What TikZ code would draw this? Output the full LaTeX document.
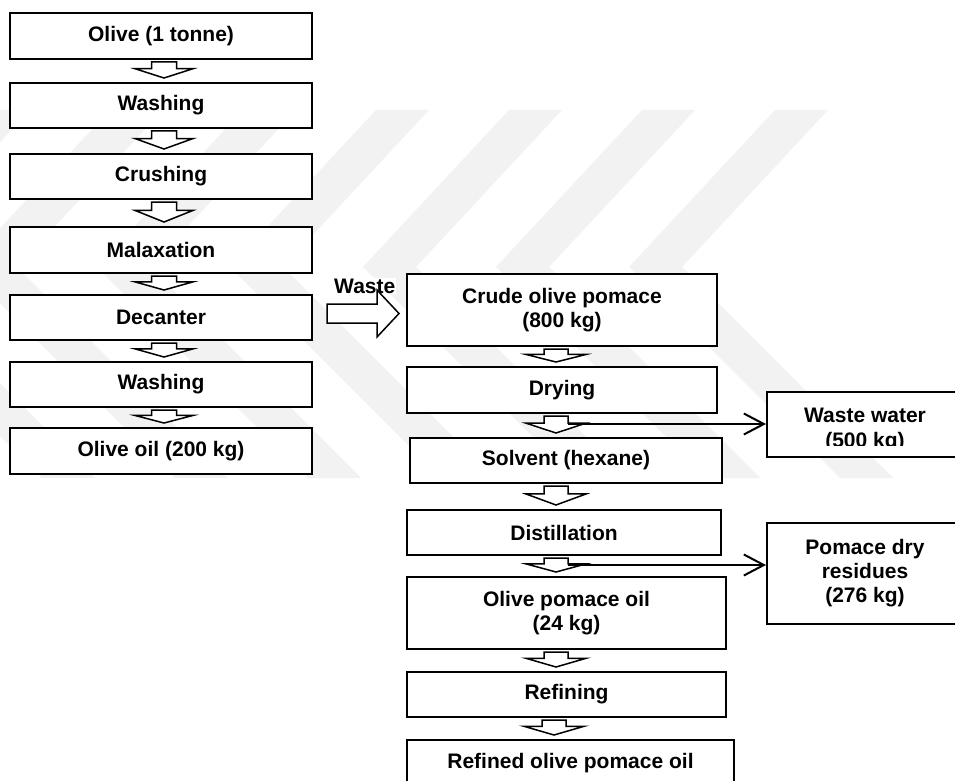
\documentclass[tikz,border=0pt]{standalone}
\usepackage{fontspec}
\setmainfont{Liberation Sans}
\usetikzlibrary{arrows.meta,calc}
% down-pointing block arrow between two named boxes: from, to, centre x, shaft half width, head half width
\newcommand\flowarrow[5]{%
  \draw[barrow] let \p1=(#1.south), \p2=(#2.north) in
    ({(#3-#4)*1pt},{\y1-2pt}) --
    ({(#3-#4)*1pt},{\y1-2pt-0.42*(\y1-\y2-6pt)}) --
    ({(#3-#5)*1pt},{\y1-2pt-0.42*(\y1-\y2-6pt)}) --
    ({#3*1pt},{\y2+4pt}) --
    ({(#3+#5)*1pt},{\y1-2pt-0.42*(\y1-\y2-6pt)}) --
    ({(#3+#4)*1pt},{\y1-2pt-0.42*(\y1-\y2-6pt)}) --
    ({(#3+#4)*1pt},{\y1-2pt}) -- cycle;}
\begin{document}
\begin{tikzpicture}[x=1pt,y=-1pt,
  box/.style={draw, line width=2pt, fill=white, align=center, inner sep=0pt,
    font=\bfseries\fontsize{21}{24}\selectfont},
  lbl/.style={font=\bfseries\fontsize{21}{24}\selectfont, inner sep=0pt},
  barrow/.style={draw, line width=1.5pt, fill=white, line join=miter},
  sideline/.style={line width=2pt, -{Straight Barb[length=20pt,width=21pt,line width=2pt]}},
  wm/.style={fill=black!5, draw=none}]
\useasboundingbox (0,0) rectangle (955,781);
\clip (0,0) rectangle (955,781);
\fill[white] (0,0) rectangle (955,781);
% faint background watermark
\foreach \T in {682,549,416,283,150,17,-116}
  \fill[wm] ({\T+93},110) -- ({\T+146},110) -- (\T,267) -- ({\T+211},478)
    -- ({\T+158},478) -- ({\T-53},267) -- cycle;

% left column
\node[box, minimum width=302pt, minimum height=46pt] (olive) at (161,36) {Olive (1 tonne)};
\node[box, minimum width=302pt, minimum height=45pt] (wash1) at (161,105.5) {Washing};
\node[box, minimum width=302pt, minimum height=45pt] (crush) at (161,176.5) {Crushing};
\node[box, minimum width=302pt, minimum height=46pt] (malax) at (161,250) {Malaxation};
\node[box, minimum width=302pt, minimum height=45pt] (decant) at (161,317.5) {Decanter};
\node[box, minimum width=302pt, minimum height=45pt] (wash2) at (161,384.5) {Washing};
\node[box, minimum width=302pt, minimum height=46pt] (oil) at (161,451) {Olive oil (200 kg)};

\flowarrow{olive}{wash1}{164}{12.5}{29}
\flowarrow{wash1}{crush}{164}{12.5}{29}
\flowarrow{crush}{malax}{164}{12.5}{29}
\flowarrow{malax}{decant}{164}{12.5}{29}
\flowarrow{decant}{wash2}{164}{12.5}{29}
\flowarrow{wash2}{oil}{164}{12.5}{29}

% right column
\node[box, minimum width=310pt, minimum height=72pt] (crude) at (562,310) {Crude olive pomace\\(800 kg)};
\node[box, minimum width=310pt, minimum height=46pt] (dry) at (562,390) {Drying};
\node[box, minimum width=312pt, minimum height=45pt] (solv) at (566,460.5) {Solvent (hexane)};
\node[box, minimum width=314pt, minimum height=45pt] (dist) at (564,532.5) {Distillation};
\node[box, minimum width=319pt, minimum height=72pt] (pomoil) at (566.5,613) {Olive pomace oil\\(24 kg)};
\node[box, minimum width=319pt, minimum height=45pt] (refin) at (566.5,694.5) {Refining};
\node[box, minimum width=327pt, minimum height=46pt] (refined) at (570.5,763) {Refined olive pomace oil};

\flowarrow{crude}{dry}{556}{12}{30}
\flowarrow{dry}{solv}{556}{12}{30}
\flowarrow{solv}{dist}{556}{12}{30}
\flowarrow{dist}{pomoil}{556}{12}{30}
\flowarrow{pomoil}{refin}{556}{12}{30}
\flowarrow{refin}{refined}{554}{12}{30}

% side outputs
\node[box, minimum width=196pt, minimum height=65pt] (ww) at (865,424.5) {};
\begin{scope}
  \clip (760,395) rectangle (960,445);
  \node[lbl, anchor=base] (wwt1) at (865,422) {Waste water};
  \node[lbl, anchor=base] (wwt2) at (865,447) {(500 kg)};
\end{scope}
\node[box, minimum width=196pt, minimum height=101pt] (pd) at (865,573.5) {Pomace dry\\residues\\(276 kg)};

\coordinate (ww-src) at (568,424);
\coordinate (pd-src) at (568,565);
\draw[sideline] (ww-src) -- (ww-src -| ww.west);
\draw[sideline] (pd-src) -- (pd-src -| pd.west);

% waste transfer
\node[lbl, anchor=base west, fill=white, inner sep=1pt] (wastelbl) at (333,293) {Waste};
\draw[barrow] let \p1=(decant.east), \p2=(crude.west) in
  ({\x1+14pt},-304pt) -- ({\x2-29pt},-304pt) -- ({\x2-29pt},-290pt) --
  ({\x2-7pt},-313.5pt) -- ({\x2-29pt},-337pt) -- ({\x2-29pt},-323pt) --
  ({\x1+14pt},-323pt) -- cycle;
\end{tikzpicture}
\end{document}
